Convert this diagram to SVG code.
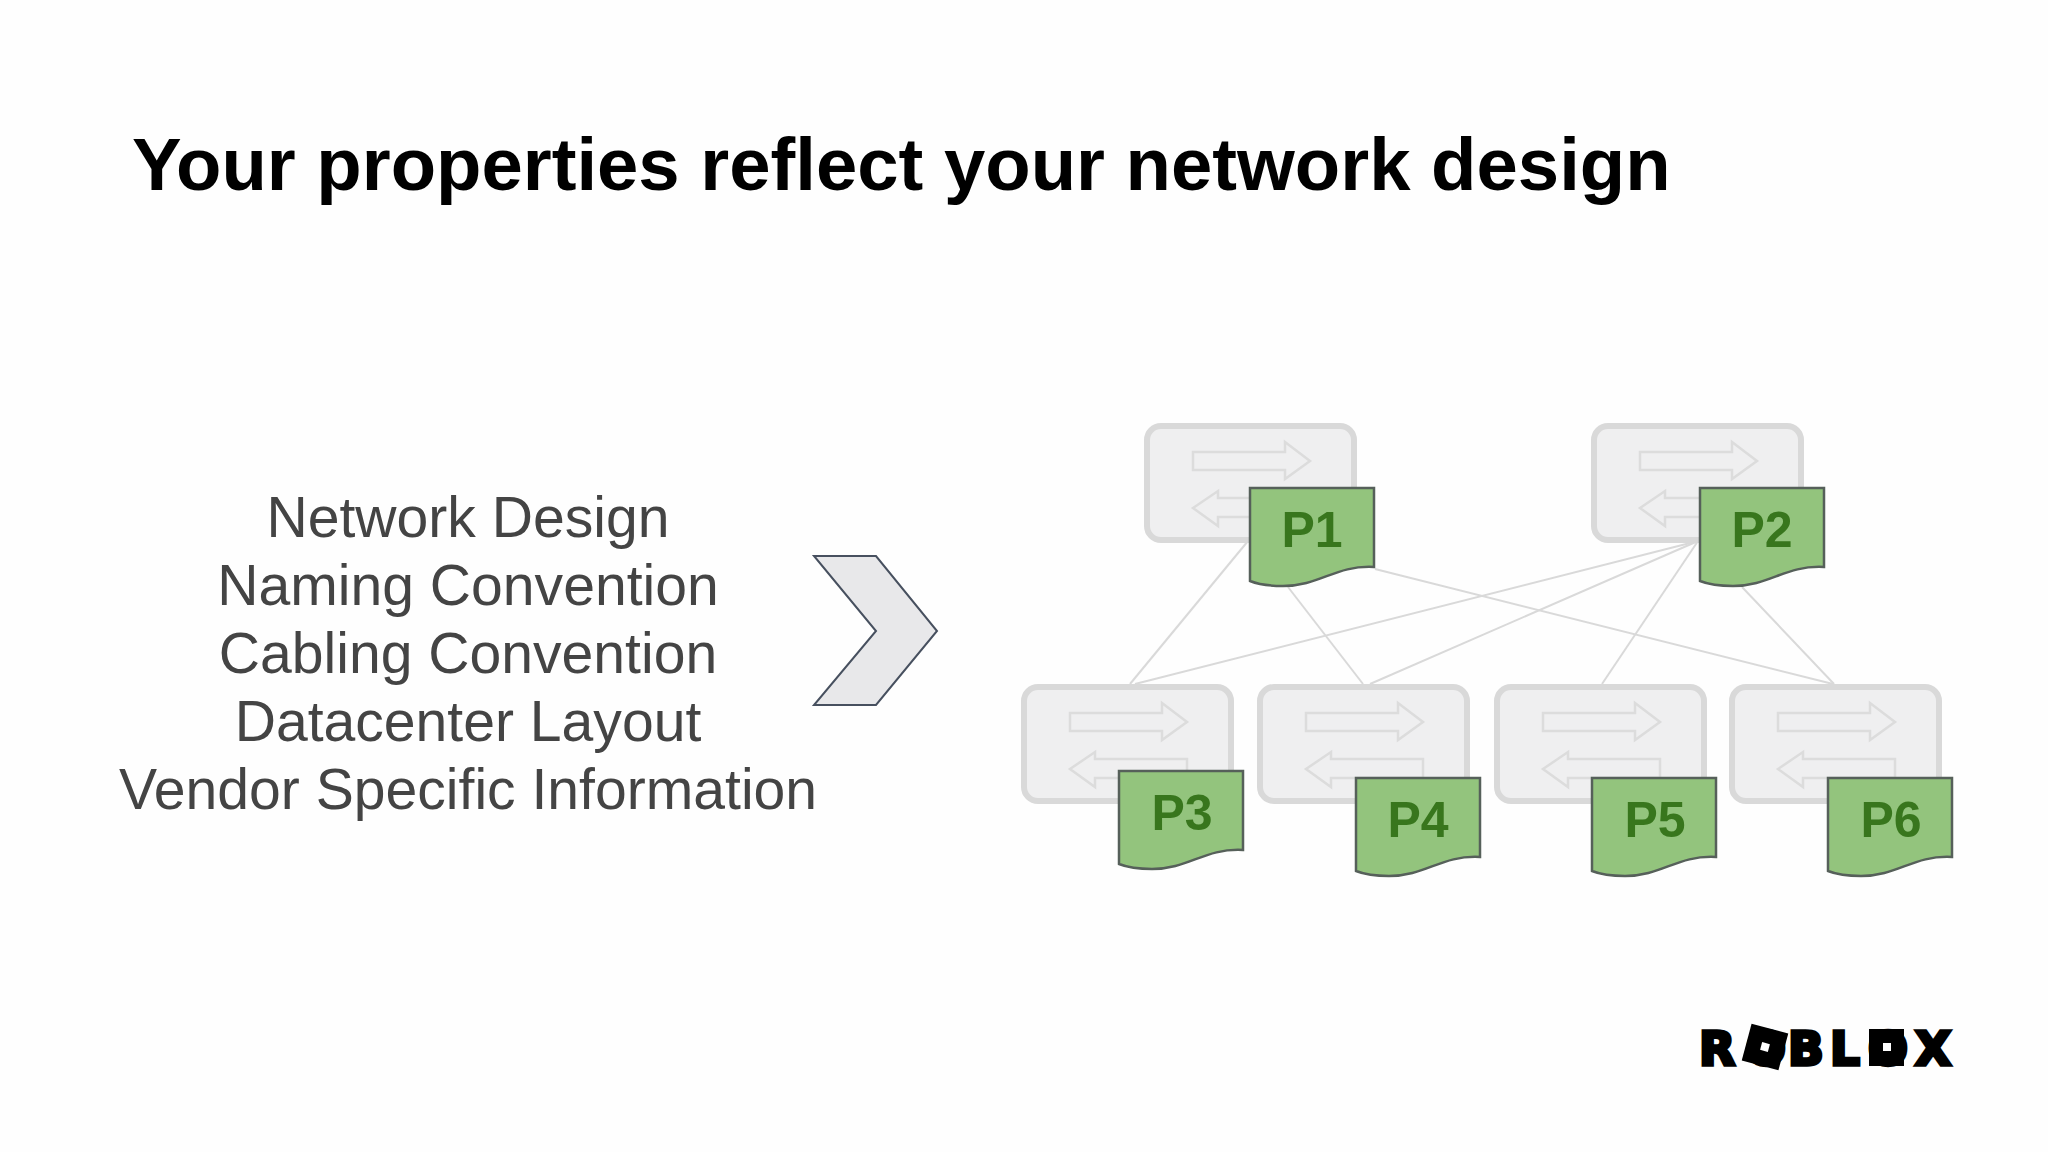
<svg xmlns="http://www.w3.org/2000/svg" xmlns:xlink="http://www.w3.org/1999/xlink" width="2048" height="1152" viewBox="0 0 2048 1152">
<style>
.title{font:bold 74.3px "Liberation Sans",Arial,sans-serif;fill:#000}
.body{font:57.1px "Liberation Sans",Arial,sans-serif;fill:#444;text-anchor:middle}
.pl{font:bold 50px "Liberation Sans",Arial,sans-serif;fill:#38761d;text-anchor:middle}
.sw{fill:#efeff0;stroke:#d9d9d9;stroke-width:6}
.ar{fill:#efeff0;stroke:#dcdcdc;stroke-width:2.5}
.doc{fill:#93c47d;stroke:#56605a;stroke-width:2.5}
.cn{stroke:#d9d9d9;stroke-width:2;fill:none}
.logo{font:bold 47px "DejaVu Sans",sans-serif;fill:#000;stroke:#000;stroke-width:3.5}
</style>
<defs>
<g id="switch">
<rect class="sw" x="0" y="0" width="207" height="114" rx="14"/>
<path class="ar" d="M46 26H138V16L163 35L138 53V44H46Z"/>
<path class="ar" d="M163 72H71V65L46 82L71 100V91H163Z"/>
</g>
<path id="page" class="doc" d="M0 0H124V79C85 77 70 98 33 98C20 98 10 97 0 93Z"/>
</defs>
<rect width="2048" height="1152" fill="#fefefe"/>
<text class="title" x="132" y="190">Your properties reflect your network design</text>
<g id="text-list">
<text class="body" x="468" y="536.5">Network Design</text>
<text class="body" x="468" y="604.5">Naming Convention</text>
<text class="body" x="468" y="672.5">Cabling Convention</text>
<text class="body" x="468" y="741">Datacenter Layout</text>
<text class="body" x="468" y="809">Vendor Specific Information</text>
</g>
<g id="chevron"><path d="M814 556H876L937 631L876 705H814L876 631Z" fill="#e8e8ea" stroke="#47505f" stroke-width="2"/></g>
<g id="connectors">
<path class="cn" d="M1248 541L1130 684"/>
<path class="cn" d="M1288 587L1363 684"/>
<path class="cn" d="M1375 569L1833 684"/>
<path class="cn" d="M1698 541L1135 684"/>
<path class="cn" d="M1698 541L1370 684"/>
<path class="cn" d="M1698 541L1602 684"/>
<path class="cn" d="M1742 587L1834 684"/>
</g>
<g id="sw1"><use xlink:href="#switch" href="#switch" transform="translate(1147 426)"/></g>
<g id="sw2"><use xlink:href="#switch" href="#switch" transform="translate(1594 426)"/></g>
<g id="sw3"><use xlink:href="#switch" href="#switch" transform="translate(1024 687)"/></g>
<g id="sw4"><use xlink:href="#switch" href="#switch" transform="translate(1260 687)"/></g>
<g id="sw5"><use xlink:href="#switch" href="#switch" transform="translate(1497 687)"/></g>
<g id="sw6"><use xlink:href="#switch" href="#switch" transform="translate(1732 687)"/></g>
<g id="p1"><use xlink:href="#page" href="#page" x="1250" y="488"/><text class="pl" x="1312" y="547">P1</text></g>
<g id="p2"><use xlink:href="#page" href="#page" x="1700" y="488"/><text class="pl" x="1762" y="547">P2</text></g>
<g id="p3"><use xlink:href="#page" href="#page" x="1119" y="771"/><text class="pl" x="1182" y="830">P3</text></g>
<g id="p4"><use xlink:href="#page" href="#page" x="1356" y="778"/><text class="pl" x="1418" y="837">P4</text></g>
<g id="p5"><use xlink:href="#page" href="#page" x="1592" y="778"/><text class="pl" x="1655" y="837">P5</text></g>
<g id="p6"><use xlink:href="#page" href="#page" x="1828" y="778"/><text class="pl" x="1891" y="837">P6</text></g>
<g id="logo">
<text class="logo" x="1699 1746 1788 1830 1868 1915" y="1065">ROBLOX</text>
<rect x="1746" y="1028" width="38" height="38" fill="#000" transform="rotate(15 1765 1047)"/>
<rect x="1761" y="1043" width="8" height="8" fill="#fff" transform="rotate(15 1765 1047)"/>
<rect x="1869" y="1029" width="35" height="37" fill="#000"/>
<rect x="1883" y="1043" width="8" height="8" fill="#fff"/>
</g>
</svg>
